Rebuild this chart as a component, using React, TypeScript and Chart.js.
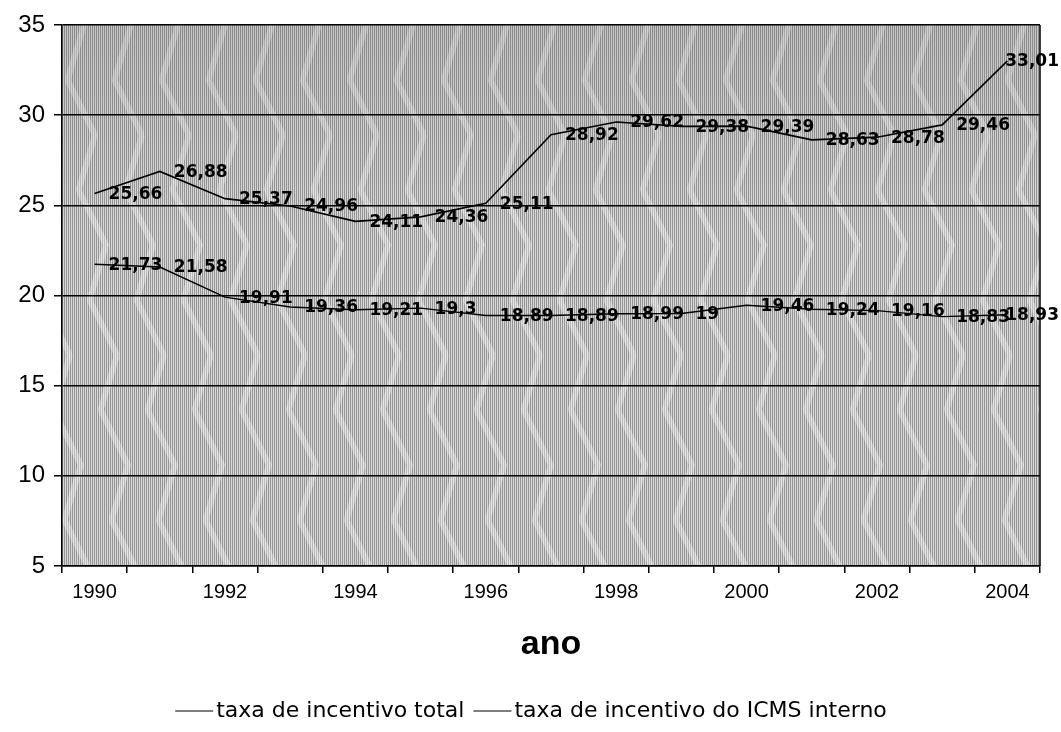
import React, { useEffect, useRef } from "react";
import { Chart, registerables } from "chart.js";

Chart.register(...registerables);

const years = ["1990", "1991", "1992", "1993", "1994", "1995", "1996", "1997", "1998", "1999", "2000", "2001", "2002", "2003", "2004"];
const taxaTotal = [25.66, 26.88, 25.37, 24.96, 24.11, 24.36, 25.11, 28.92, 29.62, 29.38, 29.39, 28.63, 28.78, 29.46, 33.01];
const taxaIcms = [21.73, 21.58, 19.91, 19.36, 19.21, 19.3, 18.89, 18.89, 18.99, 19, 19.46, 19.24, 19.16, 18.83, 18.93];
const seriesNames = ["taxa de incentivo total", "taxa de incentivo do ICMS interno"];
const xTitle = "ano";

const W = 1061;
const H = 732;

function makeTexture(): HTMLCanvasElement {
  const c = document.createElement("canvas");
  c.width = W;
  c.height = H;
  const g = c.getContext("2d")!;
  g.fillStyle = "#d8d8d8";
  g.fillRect(0, 0, W, H);
  g.fillStyle = "#959595";
  for (let x = 0; x < W; x += 2) g.fillRect(x, 0, 1, H);
  g.strokeStyle = "rgba(255,255,255,0.35)";
  g.lineWidth = 6;
  for (let k = -3; k < 24; k++) {
    const x0 = k * 47;
    g.beginPath();
    for (let y = 0; y <= H; y += 4) {
      const t = (y / 110) % 1;
      const tri = Math.abs(t - 0.5) * 2;
      const x = x0 + tri * 22 + y * 0.1;
      if (y === 0) g.moveTo(x, y);
      else g.lineTo(x, y);
    }
    g.stroke();
  }
  const grad = g.createLinearGradient(0, 0, 0, 200);
  grad.addColorStop(0, "rgba(80,80,80,0.15)");
  grad.addColorStop(1, "rgba(80,80,80,0)");
  g.fillStyle = grad;
  g.fillRect(0, 0, W, 200);
  return c;
}

export default function App() {
  const ref = useRef<HTMLCanvasElement | null>(null);

  useEffect(() => {
    const canvas = ref.current;
    if (!canvas) return;
    const texture = makeTexture();

    const bgPlugin = {
      id: "bgTexture",
      beforeDraw(chart: any) {
        const { ctx, chartArea: a } = chart;
        ctx.save();
        ctx.fillStyle = "#ffffff";
        ctx.fillRect(0, 0, chart.width, chart.height);
        ctx.drawImage(texture, 0, 0, a.right - a.left, a.bottom - a.top, a.left, a.top, a.right - a.left, a.bottom - a.top);
        ctx.restore();
      },
    };

    const decoPlugin = {
      id: "deco",
      afterDatasetsDraw(chart: any) {
        const { ctx } = chart;
        ctx.save();
        ctx.font = "bold 17px 'DejaVu Sans'";
        ctx.fillStyle = "#000";
        ctx.textAlign = "left";
        ctx.textBaseline = "middle";
        chart.data.datasets.forEach((ds: any, di: number) => {
          const meta = chart.getDatasetMeta(di);
          meta.data.forEach((el: any, i: number) => {
            const label = String(ds.data[i]).replace(".", ",");
            const w = ctx.measureText(label).width;
            const lx = Math.min(el.x + 14, chart.width - w - 2);
            ctx.fillText(label, lx, el.y + 1);
          });
        });
        ctx.restore();
      },
      afterDraw(chart: any) {
        const { ctx, chartArea: a } = chart;
        ctx.save();
        ctx.strokeStyle = "#000";
        ctx.lineWidth = 1.5;
        ctx.beginPath();
        ctx.moveTo(a.right, a.top);
        ctx.lineTo(a.right, a.bottom);
        ctx.stroke();
        ctx.fillStyle = "#000";
        ctx.font = "bold 34px 'Liberation Sans'";
        ctx.textAlign = "center";
        ctx.textBaseline = "middle";
        ctx.fillText(xTitle, 551, 645);
        ctx.font = "22px 'DejaVu Sans'";
        ctx.textAlign = "left";
        const lineLen = 38;
        const gap = 3;
        const sep = 9;
        const w1 = ctx.measureText(seriesNames[0]).width;
        const w2 = ctx.measureText(seriesNames[1]).width;
        const total = lineLen + gap + w1 + sep + lineLen + gap + w2;
        let x = 531 - total / 2;
        const y = 711;
        ctx.lineWidth = 1.2;
        seriesNames.forEach((name, i) => {
          ctx.beginPath();
          ctx.moveTo(x, y);
          ctx.lineTo(x + lineLen, y);
          ctx.stroke();
          x += lineLen + gap;
          ctx.fillText(name, x, y);
          x += (i === 0 ? w1 : w2) + sep;
        });
        ctx.restore();
      },
    };

    const chart = new Chart(canvas, {
      type: "line",
      data: {
        labels: years,
        datasets: [
          {
            label: seriesNames[0],
            data: taxaTotal,
            borderColor: "#000",
            borderWidth: 1.6,
            pointRadius: 0,
            fill: false,
            tension: 0,
          },
          {
            label: seriesNames[1],
            data: taxaIcms,
            borderColor: "#000",
            borderWidth: 1.4,
            pointRadius: 0,
            fill: false,
            tension: 0,
          },
        ],
      },
      options: {
        responsive: false,
        animation: false,
        devicePixelRatio: 1,
        layout: { padding: { top: 25, right: 21, left: 0, bottom: 0 } },
        plugins: {
          legend: { display: false },
          tooltip: { enabled: false },
        },
        scales: {
          x: {
            type: "category",
            offset: true,
            grid: {
              offset: true,
              drawOnChartArea: false,
              drawTicks: true,
              tickLength: 7,
              color: "#000",
              lineWidth: 1.5,
            },
            border: { display: true, color: "#000", width: 1.5 },
            ticks: {
              autoSkip: false,
              maxRotation: 0,
              minRotation: 0,
              padding: 7,
              color: "#000",
              font: { family: "'Liberation Sans'", size: 20 },
              callback: (_v: any, i: number) => (i % 2 === 0 ? years[i] : ""),
            },
            afterFit: (s: any) => {
              s.height = H - 566;
            },
          },
          y: {
            min: 5,
            max: 35,
            ticks: {
              stepSize: 5,
              padding: 9,
              color: "#000",
              font: { family: "'Liberation Sans'", size: 24 },
            },
            grid: {
              color: "#000",
              lineWidth: 1.5,
              tickLength: 8,
            },
            border: { display: true, color: "#000", width: 1.5 },
            afterFit: (s: any) => {
              s.width = 62;
            },
          },
        },
      },
      plugins: [bgPlugin, decoPlugin],
    } as any);

    return () => chart.destroy();
  }, []);

  return (
    <div style={{ position: "fixed", left: 0, top: 0, width: W, height: H, background: "#fff" }}>
      <canvas ref={ref} width={W} height={H} style={{ display: "block", width: W, height: H }} />
    </div>
  );
}
